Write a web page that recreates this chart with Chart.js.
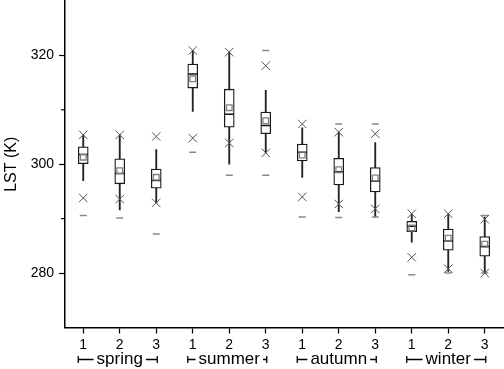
<!DOCTYPE html>
<html>
<head>
<meta charset="utf-8">
<script src="https://cdn.jsdelivr.net/npm/chart.js@4.4.1/dist/chart.umd.min.js"></script>
<style>
  html, body { margin: 0; padding: 0; background: #fff; }
  #wrap { width: 504px; height: 369px; }
</style>
</head>
<body>
<div id="wrap"><canvas id="c"></canvas></div>
<script>
// categories
const seasons = ['spring', 'summer', 'autumn', 'winter'];
const labels = ['1', '2', '3', '1', '2', '3', '1', '2', '3', '1', '2', '3'];

// box statistics (K), one entry per box
const boxLow   = [300.1, 296.4, 295.6, 314.0, 306.8, 305.6, 300.6, 296.2, 294.9, 287.6, 284.2, 283.1];
const boxHigh  = [303.2, 301.0, 299.1, 318.4, 313.8, 309.6, 303.7, 301.1, 299.4, 289.5, 288.1, 286.7];
const medians  = [301.8, 298.3, 297.0, 316.6, 309.2, 307.1, 302.2, 298.6, 296.9, 288.6, 285.9, 284.9];
const means    = [301.3, 298.8, 297.6, 315.7, 310.4, 308.0, 301.7, 299.0, 297.5, 288.3, 286.4, 285.3];
const whiskLow = [297.0, 291.6, 292.9, 309.7, 300.0, 302.1, 297.6, 291.3, 290.3, 285.7, 280.3, 280.0];
const whiskHigh= [305.4, 305.4, 302.7, 320.9, 320.6, 313.6, 306.7, 305.9, 304.0, 290.9, 290.9, 290.3];
const crossLow = [293.8, 293.6, 292.9, 304.8, 303.9, 302.1, 294.0, 292.7, 291.8, 282.9, 280.8, 280.0];
const crossHigh= [305.4, 305.4, 305.1, 320.9, 320.6, 318.1, 307.4, 305.9, 305.6, 290.9, 290.9, 289.9];
const minVals  = [290.6, 290.1, 287.2, 302.2, 298.0, 298.0, 290.3, 290.2, 290.3, 279.7, 280.0, 280.0];
const maxVals  = [null, null, null, null, null, 320.9, null, 307.4, 307.4, null, null, 290.6];

const FONT = '"Liberation Sans", Arial, sans-serif';

const groupLabels = {
    id: 'groupLabels',
    afterDraw(chart) {
        const {ctx, chartArea, scales: {x, y}} = chart;
        ctx.save();
        // minor ticks on the y axis
        ctx.strokeStyle = '#000';
        ctx.lineWidth = 1.2;
        y.ticks.forEach(t => {
            if (t.value % 20 !== 0 && t.value > y.min && t.value < y.max) {
                const py = y.getPixelForValue(t.value);
                ctx.beginPath();
                ctx.moveTo(chartArea.left - 4, py);
                ctx.lineTo(chartArea.left, py);
                ctx.stroke();
            }
        });
        // season brackets under the tick labels
        const ly = chartArea.bottom + 32;
        ctx.font = '17px ' + FONT;
        ctx.fillStyle = '#000';
        ctx.lineWidth = 1.3;
        ctx.textAlign = 'center';
        ctx.textBaseline = 'middle';
        seasons.forEach((s, g) => {
            const x1 = x.getPixelForValue(g * 3) - 5;
            const x2 = x.getPixelForValue(g * 3 + 1);
            const x3 = x.getPixelForValue(g * 3 + 2) + 1;
            const w = ctx.measureText(s).width;
            ctx.fillText(s, x2, ly);
            ctx.beginPath();
            ctx.moveTo(x1, ly); ctx.lineTo(x2 - w / 2 - 3, ly);
            ctx.moveTo(x2 + w / 2 + 3, ly); ctx.lineTo(x3, ly);
            ctx.moveTo(x1, ly - 3.5); ctx.lineTo(x1, ly + 3.5);
            ctx.moveTo(x3, ly - 3.5); ctx.lineTo(x3, ly + 3.5);
            ctx.stroke();
        });
        ctx.restore();
    }
};

function points(data, style, radius, color, width, order) {
    return {
        type: 'line', data: data, showLine: false, order: order,
        pointStyle: style, pointRadius: radius, pointHoverRadius: radius,
        pointBorderColor: color, pointBackgroundColor: 'rgba(0,0,0,0)',
        pointBorderWidth: width, pointHoverBorderWidth: width
    };
}

document.addEventListener('DOMContentLoaded', function(){
    const ctx = document.getElementById('c');
    new Chart(ctx, {
        type: 'bar',
        data: {
            labels: labels,
            datasets: [
                {   // whiskers
                    data: labels.map((l, i) => [whiskLow[i], whiskHigh[i]]),
                    backgroundColor: '#222', borderWidth: 0,
                    barThickness: 1.2, grouped: false, order: 6
                },
                {   // boxes
                    data: labels.map((l, i) => [boxLow[i], boxHigh[i]]),
                    backgroundColor: '#fff', borderColor: '#1a1a1a', borderWidth: 1.3,
                    borderSkipped: false, barThickness: 10, grouped: false, order: 5
                },
                points(medians, 'line', 4.5, '#111', 1.5, 4),
                points(means, 'rect', 4, '#808080', 1.3, 3),
                points(minVals, 'line', 3.5, '#8a8a8a', 1.5, 2),
                points(maxVals, 'line', 3.5, '#8a8a8a', 1.5, 2),
                points(crossLow, 'crossRot', 6, '#555', 1, 1),
                points(crossHigh, 'crossRot', 6, '#555', 1, 1)
            ]
        },
        options: {
            responsive: true,
            maintainAspectRatio: false,
            animation: false,
            events: [],
            layout: {
                autoPadding: false,
                padding: { top: 1, right: 1, left: 0, bottom: 0 }
            },
            plugins: {
                legend: { display: false },
                tooltip: { enabled: false }
            },
            scales: {
                x: {
                    offset: true,
                    grid: {
                        offset: false, drawOnChartArea: false, drawTicks: true,
                        tickLength: 6, color: '#000', tickWidth: 1.2
                    },
                    border: { display: true, color: '#000', width: 1.5 },
                    ticks: {
                        color: '#000', font: { family: FONT, size: 14 },
                        padding: 3, maxRotation: 0, autoSkip: false
                    },
                    afterFit: s => {
                        s.height = 41.5;
                        s.paddingLeft = 0; s.paddingRight = 0;
                    }
                },
                y: {
                    min: 270,
                    max: 330,
                    grid: {
                        drawOnChartArea: false, tickLength: 6, tickWidth: 1.2,
                        tickColor: c => (c.tick && c.tick.value % 20 === 0) ? '#000' : 'rgba(0,0,0,0)'
                    },
                    border: { display: true, color: '#000', width: 1.5 },
                    ticks: {
                        stepSize: 10,
                        color: '#000', font: { family: FONT, size: 14 }, padding: 5,
                        callback: v => v % 20 === 0 ? v : ''
                    },
                    title: {
                        display: true, text: 'LST (K)', color: '#000',
                        font: { family: FONT, size: 16 },
                        padding: { top: 2, bottom: 0 }
                    },
                    afterFit: s => {
                        s.width = 65;
                        s.paddingTop = 0; s.paddingBottom = 0;
                    }
                }
            }
        },
        plugins: [groupLabels]
    });
});
</script>
</body>
</html>
